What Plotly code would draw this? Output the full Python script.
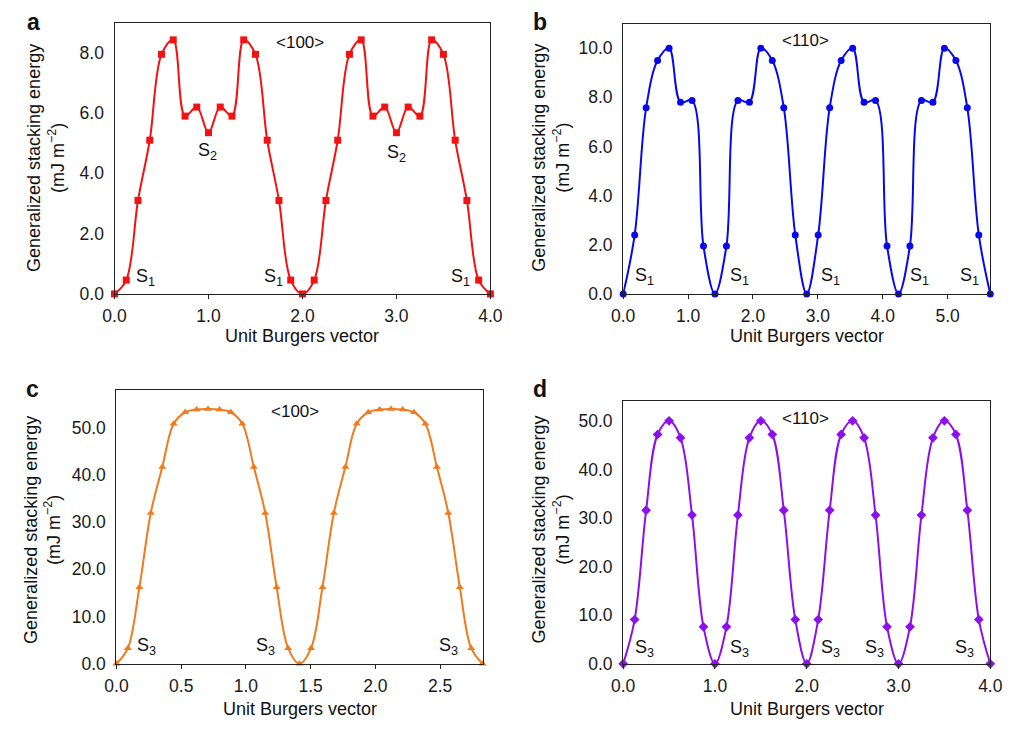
import plotly.graph_objects as go

W, H = 1014, 730
FONT = "Liberation Sans, Arial, sans-serif"

# ---------------- data ----------------
# (a) <100>, S1/S2
a_x = [0.000, 0.125, 0.250, 0.375, 0.500, 0.625, 0.750, 0.875, 1.000, 1.125, 1.250, 1.375, 1.500,
       1.625, 1.750, 1.875, 2.000, 2.125, 2.250, 2.375, 2.500, 2.625, 2.750, 2.875, 3.000, 3.125,
       3.250, 3.375, 3.500, 3.625, 3.750, 3.875, 4.000]
a_y = [0.00, 0.46, 3.10, 5.10, 7.95, 8.43, 5.90, 6.20, 5.35, 6.20, 5.90, 8.43, 7.95, 5.10, 3.10, 0.46,
       0.00, 0.46, 3.10, 5.10, 7.95, 8.43, 5.90, 6.20, 5.35, 6.20, 5.90, 8.43, 7.95, 5.10, 3.10, 0.46, 0.00]

# (b) <110>, S1
b_x = [0.000, 0.177, 0.354, 0.530, 0.707, 0.884, 1.061, 1.237, 1.414, 1.591, 1.768, 1.945, 2.121,
       2.298, 2.475, 2.652, 2.828, 3.005, 3.182, 3.359, 3.536, 3.712, 3.889, 4.066, 4.243, 4.419,
       4.596, 4.773, 4.950, 5.127, 5.303, 5.480, 5.657]
b_y = [0.00, 2.40, 7.58, 9.50, 10.00, 7.80, 7.87, 1.95, 0.00,
       1.95, 7.87, 7.80, 10.00, 9.50, 7.58, 2.40, 0.00,
       2.40, 7.58, 9.50, 10.00, 7.80, 7.87, 1.95, 0.00,
       1.95, 7.87, 7.80, 10.00, 9.50, 7.58, 2.40, 0.00]

# (c) <100>, S3
c_x = [0.000, 0.088, 0.177, 0.265, 0.354, 0.442, 0.530, 0.619, 0.707, 0.795, 0.884, 0.972, 1.061,
       1.149, 1.237, 1.326, 1.414, 1.503, 1.591, 1.679, 1.768, 1.856, 1.945, 2.033, 2.121, 2.210,
       2.298, 2.386, 2.475, 2.563, 2.652, 2.740, 2.828]
c_y = [0.0, 3.3, 16.2, 31.9, 41.6, 50.8, 53.2, 53.8, 53.9, 53.8, 53.2, 50.8, 41.6, 31.9, 16.2, 3.3,
       0.0, 3.3, 16.2, 31.9, 41.6, 50.8, 53.2, 53.8, 53.9, 53.8, 53.2, 50.8, 41.6, 31.9, 16.2, 3.3, 0.0]

# (d) <110>, S3
d_x = a_x
d_y = [0.0, 9.1, 31.6, 47.2, 50.0, 46.5, 30.6, 7.6, 0.0,
       7.6, 30.6, 46.5, 50.0, 47.2, 31.6, 9.1, 0.0,
       9.1, 31.6, 47.2, 50.0, 46.5, 30.6, 7.6, 0.0,
       7.6, 30.6, 46.5, 50.0, 47.2, 31.6, 9.1, 0.0]

a_xticks = [0, 1, 2, 3, 4]
b_xticks = [0, 1, 2, 3, 4, 5]
c_xticks = [0, 0.5, 1.0, 1.5, 2.0, 2.5]
d_xticks = [0, 1, 2, 3, 4]
a_yticks = [0, 2, 4, 6, 8]
b_yticks = [0, 2, 4, 6, 8, 10]
c_yticks = [0, 10, 20, 30, 40, 50]
d_yticks = [0, 10, 20, 30, 40, 50]

# ---------------- layout helpers ----------------
def dx(p):
    return p / W

def dy(p):
    return 1 - p / H

panels = [
    dict(k="", x=a_x, y=a_y, color="#f31212", symbol="square", ms=7, xr=[0, 4], yr=[0, 9.0],
         xt=a_xticks, yt=a_yticks, box=(105, 490, 23, 298)),
    dict(k="2", x=b_x, y=b_y, color="#0808ea", symbol="circle", ms=7, xr=[0, 5.657], yr=[0, 11.0],
         xt=b_xticks, yt=b_yticks, box=(626, 1002, 24, 298)),
    dict(k="3", x=c_x, y=c_y, color="#f07a1c", symbol="triangle-up", ms=7, xr=[0, 2.828], yr=[0, 58],
         xt=c_xticks, yt=c_yticks, box=(107, 482, 395, 673)),
    dict(k="4", x=d_x, y=d_y, color="#8c10ec", symbol="diamond", ms=7.5, xr=[0, 4], yr=[0, 54],
         xt=d_xticks, yt=d_yticks, box=(626, 1002, 407, 673)),
]

fig = go.Figure()
layout = dict(
    width=W, height=H, margin=dict(l=0, r=0, t=0, b=0),
    paper_bgcolor="white", plot_bgcolor="white", showlegend=False,
    font=dict(family=FONT, color="#1a1a1a", size=17),
)

for p in panels:
    k = p["k"]
    fig.add_trace(go.Scatter(
        x=p["x"], y=p["y"], mode="lines+markers",
        xaxis="x" + k, yaxis="y" + k, cliponaxis=False,
        line=dict(color=p["color"], width=2, shape="spline", smoothing=1.0),
        marker=dict(color=p["color"], symbol=p["symbol"], size=p["ms"]),
    ))
    l, r, t, b = p["box"]
    layout["xaxis" + k] = dict(
        domain=[dx(l), dx(r)], range=p["xr"], anchor="y" + k,
        tickvals=p["xt"], ticktext=["%.1f" % v for v in p["xt"]],
        showline=True, linecolor="#222", linewidth=1.3, mirror=True,
        ticks="outside", ticklen=4, tickcolor="#222", tickwidth=1, ticklabelstandoff=2,
        showgrid=False, zeroline=False, tickfont=dict(size=17.5, family=FONT, color="#1a1a1a"),
    )
    layout["yaxis" + k] = dict(
        domain=[dy(b), dy(t)], range=p["yr"], anchor="x" + k,
        tickvals=p["yt"], ticktext=["%.1f" % v for v in p["yt"]],
        showline=True, linecolor="#222", linewidth=1.3, mirror=True,
        ticks="", ticklabelstandoff=6,
        showgrid=False, zeroline=False, tickfont=dict(size=17.5, family=FONT, color="#1a1a1a"),
    )

fig.update_layout(**layout)

ann = []

def paper_text(txt, x, y, size=18, bold=False, angle=0):
    ann.append(dict(text=("<b>%s</b>" % txt) if bold else txt, x=dx(x), y=dy(y),
                    xref="paper", yref="paper", showarrow=False, textangle=angle,
                    xanchor="center", yanchor="middle",
                    font=dict(family=FONT, size=size, color="#111")))

def data_text(txt, k, x, y, size=18):
    ann.append(dict(text=txt, x=x, y=y, xref="x" + k, yref="y" + k, showarrow=False,
                    xanchor="center", yanchor="middle",
                    font=dict(family=FONT, size=size, color="#111")))

# panel letters
paper_text("a", 22, 22, size=23, bold=True)
paper_text("b", 541, 22, size=23, bold=True)
paper_text("c", 21, 394, size=23, bold=True)
paper_text("d", 541, 394, size=23, bold=True)

ytitle = "Generalized stacking energy<br>(mJ m<sup>\u22122</sup>)"
paper_text(ytitle, 35, 160, size=18, angle=-90)
paper_text(ytitle, 552, 160, size=18, angle=-90)
paper_text(ytitle, 31, 537, size=18, angle=-90)
paper_text(ytitle, 552, 537, size=18, angle=-90)

xtitle = "Unit Burgers vector"
paper_text(xtitle, 297, 341)
paper_text(xtitle, 814, 341)
paper_text(xtitle, 295, 719)
paper_text(xtitle, 814, 719)

# panel a
data_text("&lt;100&gt;", "", 1.97, 8.33, size=17)
for xv in [0.33, 1.69, 3.68]:
    data_text("S<sub>1</sub>", "", xv, 0.56)
data_text("S<sub>2</sub>", "", 0.99, 4.74)
data_text("S<sub>2</sub>", "", 3.00, 4.67)
# panel b
data_text("&lt;110&gt;", "2", 2.81, 10.33, size=17)
for xv in [0.33, 1.79, 3.19, 4.57, 5.34]:
    data_text("S<sub>1</sub>", "2", xv, 0.71)
# panel c
data_text("&lt;100&gt;", "3", 1.38, 53.4, size=17)
for xv in [0.234, 1.155, 2.566]:
    data_text("S<sub>3</sub>", "3", xv, 3.6)
# panel d
data_text("&lt;110&gt;", "4", 1.99, 50.5, size=17)
for xv in [0.234, 1.27, 2.255, 2.74, 3.72]:
    data_text("S<sub>3</sub>", "4", xv, 3.2)

fig.update_layout(annotations=ann)
fig.write_html("out.html")
